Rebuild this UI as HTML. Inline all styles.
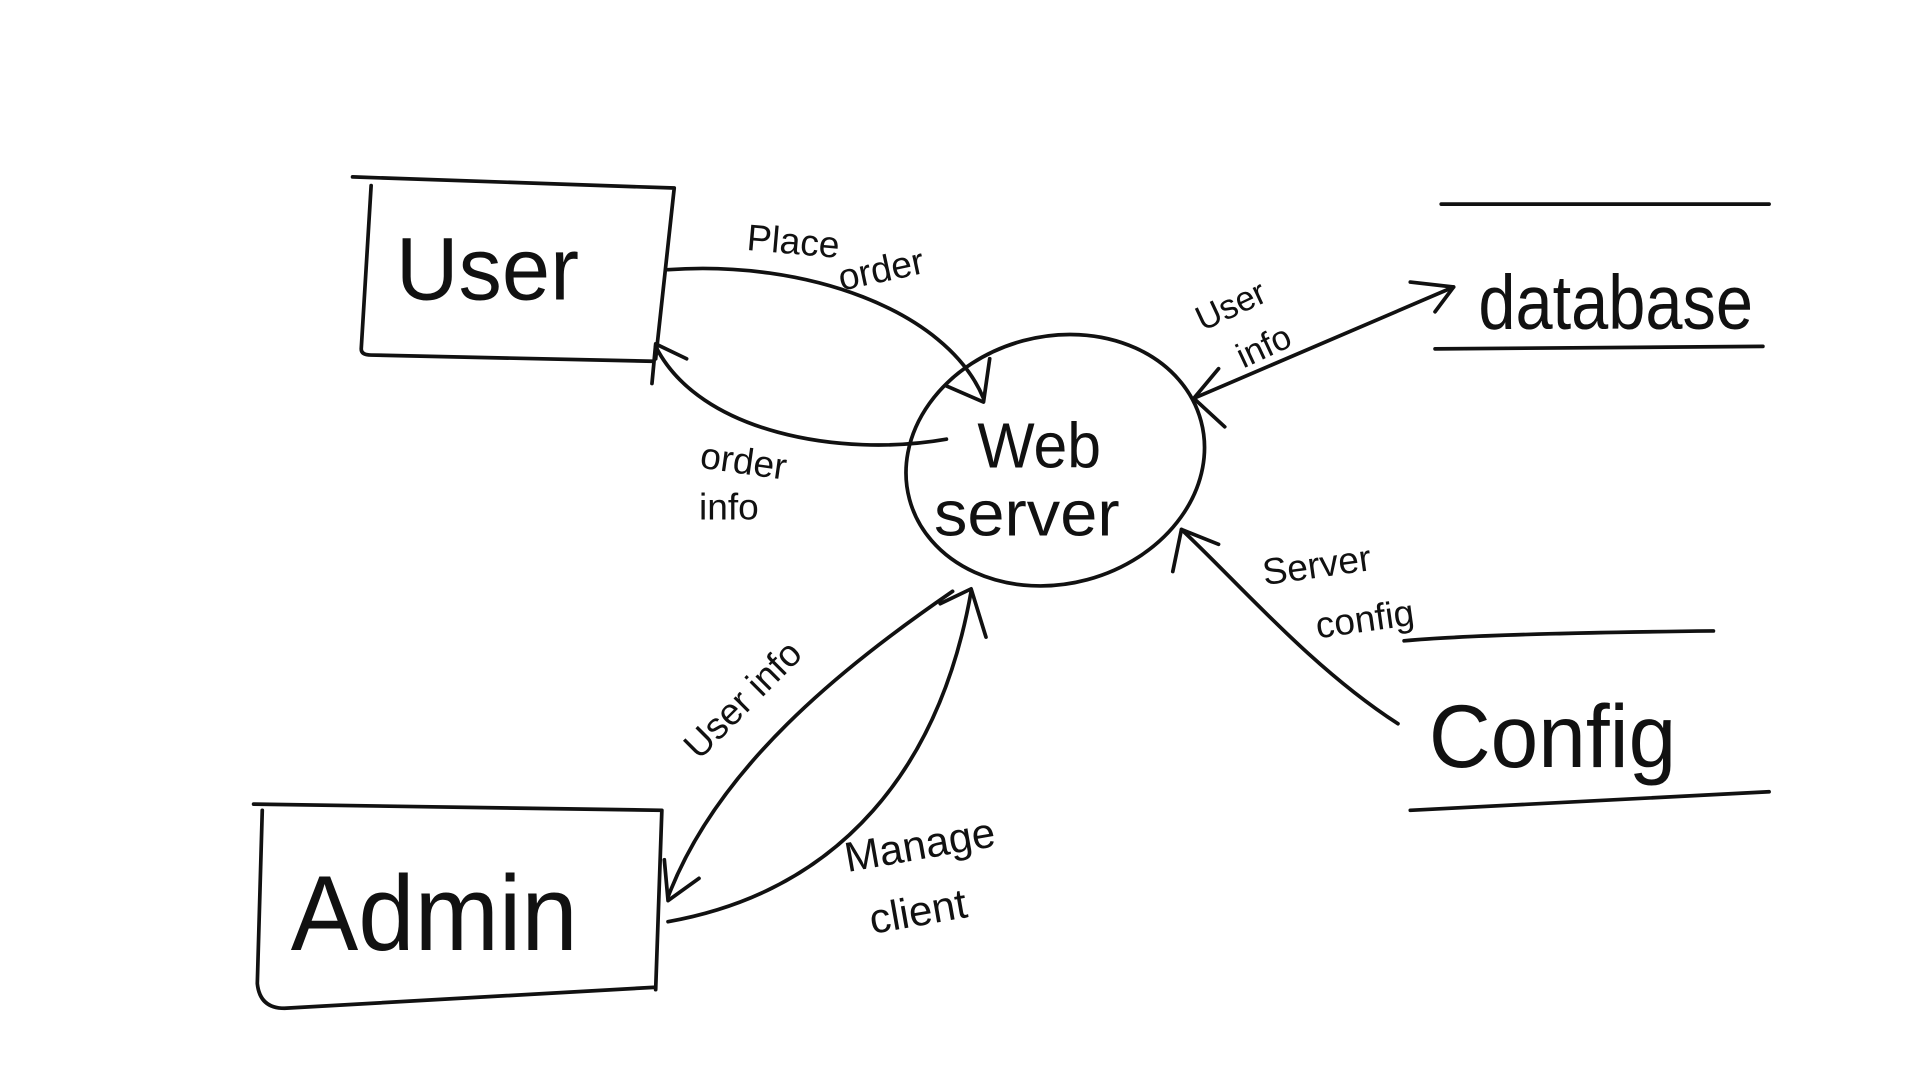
<!DOCTYPE html>
<html><head><meta charset="utf-8"><style>
html,body{margin:0;padding:0;background:#fff;}
svg{display:block}
text{font-family:"Liberation Sans",sans-serif;fill:#111;}
</style></head><body>
<svg width="1920" height="1080" viewBox="0 0 1552 873" preserveAspectRatio="none">
<g fill="none" stroke="#111" stroke-width="3" stroke-linecap="round" stroke-linejoin="round">
<path d="M285,143 L545,152 M300,150 L292,282 Q292,287 300,287 L527,292 M545,152 L530,290"/>
<path d="M205,650 L535,655 M212,655 L208,795 Q210,815 230,815 L530,798 M535,655 L530,800"/>
<path d="M1165,165 L1430,165 M1160,282 L1425,280"/>
<path d="M1135,518 Q1200,512 1385,510 M1140,655 L1430,640"/>
<ellipse cx="853" cy="372" rx="122" ry="100" transform="rotate(-15 853 372)"/>
<path d="M540,218 C650,210 765,250 795,322"/>
<path d="M765,312 L795,325 L800,290"/>
<path d="M765,355 C680,370 565,350 530,280"/>
<path d="M527,310 L530,278 L555,290"/>
<path d="M965,322 L1175,232"/>
<path d="M1140,228 L1175,232 L1160,252"/>
<path d="M990,345 L965,322 L985,298"/>
<path d="M1130,585 C1060,540 1000,470 955,428"/>
<path d="M948,462 L955,428 L985,440"/>
<path d="M770,478 C680,540 580,620 540,725"/>
<path d="M537,695 L540,728 L565,710"/>
<path d="M540,745 C680,720 760,620 785,478"/>
<path d="M760,488 L785,476 L797,515"/>
</g>
<text x="320" y="242" font-size="72" textLength="148" lengthAdjust="spacingAndGlyphs">User</text>
<text x="235" y="768" font-size="86" textLength="232" lengthAdjust="spacingAndGlyphs">Admin</text>
<text x="1195" y="266" font-size="62" textLength="222" lengthAdjust="spacingAndGlyphs">database</text>
<text x="1155" y="620" font-size="72" textLength="200" lengthAdjust="spacingAndGlyphs">Config</text>
<text x="790" y="378" font-size="52" textLength="100" lengthAdjust="spacingAndGlyphs">Web</text>
<text x="755" y="433" font-size="52" textLength="150" lengthAdjust="spacingAndGlyphs">server</text>
<text x="603" y="202" font-size="30" transform="rotate(5 603 202)">Place</text>
<text x="680" y="235" font-size="30" transform="rotate(-12 680 235)">order</text>
<text x="565" y="378" font-size="30" transform="rotate(8 565 378)">order</text>
<text x="565" y="420" font-size="30">info</text>
<text x="972" y="268" font-size="28" transform="rotate(-25 972 268)">User</text>
<text x="1005" y="298" font-size="28" transform="rotate(-25 1005 298)">info</text>
<text x="1022" y="473" font-size="30" transform="rotate(-8 1022 473)">Server</text>
<text x="1065" y="516" font-size="30" transform="rotate(-8 1065 516)">config</text>
<text x="565" y="615" font-size="30" transform="rotate(-45 565 615)">User  info</text>
<text x="685" y="705" font-size="34" transform="rotate(-10 685 705)">Manage</text>
<text x="705" y="755" font-size="34" transform="rotate(-10 705 755)">client</text>
</svg>
</body></html>
